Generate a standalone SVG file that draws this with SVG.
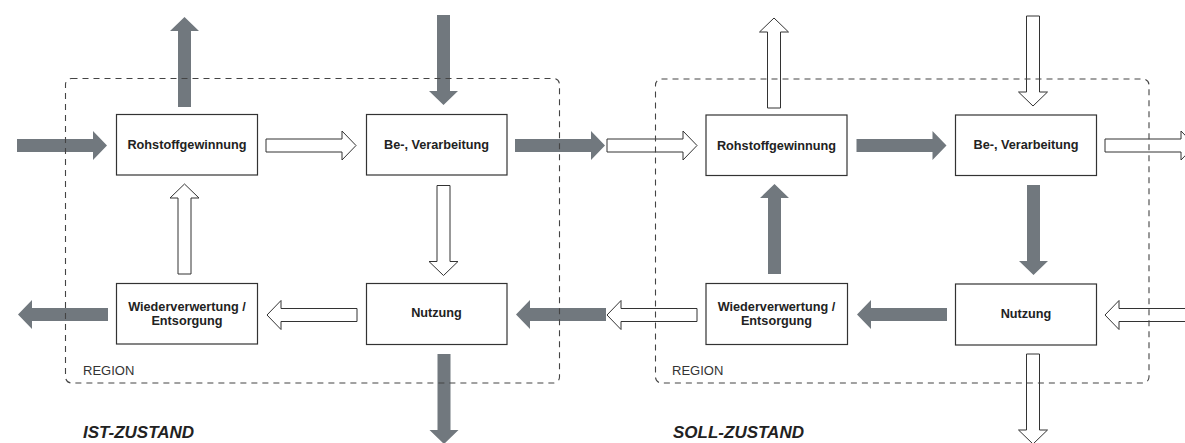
<svg xmlns="http://www.w3.org/2000/svg" xmlns:xlink="http://www.w3.org/1999/xlink" width="1185" height="443" viewBox="0 0 1185 443">
<style>
.g{fill:#71787e;stroke:none}
.h{fill:#fff;stroke:#333;stroke-width:1}
.box{fill:#fff;stroke:#333;stroke-width:1.2}
.reg{fill:none;stroke:#444;stroke-width:1.1;stroke-dasharray:6 5}
.t{font-family:"Liberation Sans",Arial,sans-serif;font-weight:bold;font-size:12.7px;fill:#222;text-anchor:middle}
.rl{font-family:"Liberation Sans",Arial,sans-serif;font-size:13px;fill:#333}
.st{font-family:"Liberation Sans",Arial,sans-serif;font-size:17px;font-weight:bold;font-style:italic;fill:#222}
</style>
<defs>
<path id="ar" d="M0,-6.5 H76 V-14.5 L90,0 L76,14.5 V6.5 H0 Z"/>
</defs>
<rect width="1185" height="443" fill="#fff"/>
<g id="connectors">
<!-- IST-ZUSTAND -->
<use xlink:href="#ar" class="g" transform="translate(17,145.5)"/>
<use xlink:href="#ar" class="h" transform="translate(266,145.5)"/>
<use xlink:href="#ar" class="g" transform="translate(515,145.5)"/>
<use xlink:href="#ar" class="g" transform="translate(184.5,107) rotate(-90)"/>
<use xlink:href="#ar" class="g" transform="translate(443.5,15) rotate(90)"/>
<use xlink:href="#ar" class="h" transform="translate(443.5,185.5) rotate(90)"/>
<use xlink:href="#ar" class="h" transform="translate(184.5,274) rotate(-90)"/>
<use xlink:href="#ar" class="h" transform="translate(357,315) rotate(180)"/>
<use xlink:href="#ar" class="g" transform="translate(108,314.5) rotate(180)"/>
<use xlink:href="#ar" class="g" transform="translate(606,314.5) rotate(180)"/>
<use xlink:href="#ar" class="g" transform="translate(444,354) rotate(90)"/>
<!-- SOLL-ZUSTAND -->
<use xlink:href="#ar" class="h" transform="translate(607,145.5)"/>
<use xlink:href="#ar" class="g" transform="translate(856.5,145.5)"/>
<use xlink:href="#ar" class="h" transform="translate(1105,145.5)"/>
<use xlink:href="#ar" class="h" transform="translate(774,108) rotate(-90)"/>
<use xlink:href="#ar" class="h" transform="translate(1033,16) rotate(90)"/>
<use xlink:href="#ar" class="g" transform="translate(1033.5,185) rotate(90)"/>
<use xlink:href="#ar" class="g" transform="translate(774.5,274) rotate(-90)"/>
<use xlink:href="#ar" class="g" transform="translate(947,314.5) rotate(180)"/>
<use xlink:href="#ar" class="h" transform="translate(697,315) rotate(180)"/>
<use xlink:href="#ar" class="h" transform="translate(1195,315) rotate(180)"/>
<use xlink:href="#ar" class="h" transform="translate(1033,354) rotate(90)"/>
</g>
<g id="region-ist">
<rect class="reg" x="65.5" y="78.5" width="494" height="304.5" rx="6"/>
<text class="rl" x="83" y="375">REGION</text>
</g>
<g id="region-soll">
<rect class="reg" x="655.5" y="79" width="493.5" height="304" rx="6"/>
<text class="rl" x="672" y="375">REGION</text>
</g>
<g id="ist-rohstoff">
<rect class="box" x="116.5" y="114.5" width="141" height="60.5"/>
<text class="t" x="187" y="149">Rohstoffgewinnung</text>
</g>
<g id="ist-verarbeitung">
<rect class="box" x="366.5" y="114.5" width="140.5" height="60.5"/>
<text class="t" x="436.5" y="148.5">Be-, Verarbeitung</text>
</g>
<g id="ist-nutzung">
<rect class="box" x="366.5" y="283.5" width="140.5" height="61"/>
<text class="t" x="436.5" y="317">Nutzung</text>
</g>
<g id="ist-wiederverwertung">
<rect class="box" x="116.5" y="283.5" width="141" height="60.5"/>
<text class="t" x="187" y="311.3">Wiederverwertung /</text>
<text class="t" x="187" y="325.3">Entsorgung</text>
</g>
<g id="soll-rohstoff">
<rect class="box" x="706" y="115" width="141" height="60.5"/>
<text class="t" x="776.5" y="149.5">Rohstoffgewinnung</text>
</g>
<g id="soll-verarbeitung">
<rect class="box" x="955.5" y="115" width="141" height="60.5"/>
<text class="t" x="1026" y="149">Be-, Verarbeitung</text>
</g>
<g id="soll-nutzung">
<rect class="box" x="955.5" y="284" width="141" height="61"/>
<text class="t" x="1026" y="317.5">Nutzung</text>
</g>
<g id="soll-wiederverwertung">
<rect class="box" x="706" y="283.5" width="141.5" height="61"/>
<text class="t" x="776.5" y="311.3">Wiederverwertung /</text>
<text class="t" x="776.5" y="325.3">Entsorgung</text>
</g>
<g id="labels">
<text class="st" x="83" y="438">IST-ZUSTAND</text>
<text class="st" x="673" y="438">SOLL-ZUSTAND</text>
</g>
</svg>
